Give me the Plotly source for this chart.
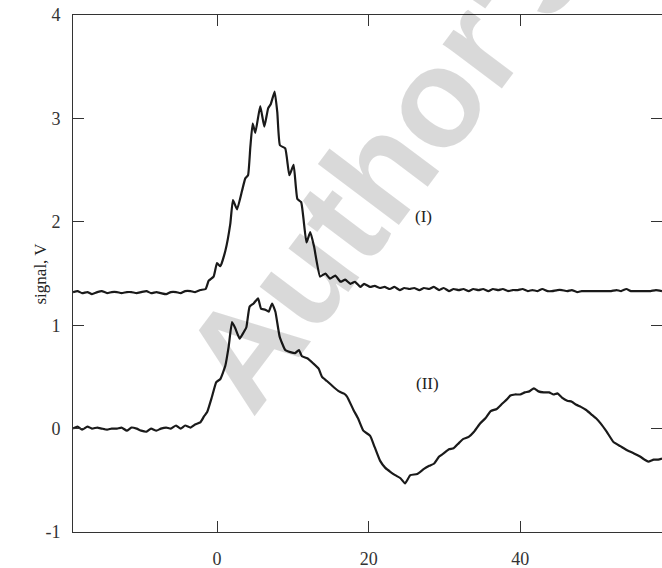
import plotly.graph_objects as go

# Curve (I)
x1 = [-19.0, -18.4, -17.8, -17.1, -16.5, -15.8, -15.2, -14.5, -13.9, -13.2, -12.6, -11.9, -11.3,
      -10.6, -10.0, -9.3, -8.7, -8.0, -7.4, -6.7, -6.1, -5.4, -4.8, -4.2, -3.5, -2.9, -2.2, -1.5,
      -1.1, -0.45, 0.0, 0.44, 1.1, 1.75, 2.1, 2.64, 3.3, 3.73, 4.09, 4.39, 4.7, 5.05, 5.7, 6.24,
      6.75, 7.1, 7.6, 7.95, 8.3, 9.0, 9.54, 10.1, 10.6, 11.1, 11.8, 12.3, 12.8, 13.6, 14.3, 14.9,
      15.6, 16.3, 16.9, 17.6, 18.2, 18.9, 19.4, 20.2, 20.8, 21.5, 22.1, 22.8, 23.4, 24.1, 24.7,
      25.4, 26.0, 26.7, 27.3, 28.0, 28.6, 29.3, 29.9, 30.6, 31.2, 31.9, 32.5, 33.2, 33.8, 34.5,
      35.1, 35.8, 36.4, 37.1, 37.7, 38.4, 39.0, 39.7, 40.3, 41.0, 41.6, 42.3, 42.9, 43.6, 44.2,
      44.9, 45.5, 46.2, 46.8, 47.5, 48.1, 48.8, 49.4, 50.1, 50.7, 51.4, 52.0, 52.7, 53.3, 54.0,
      54.6, 55.3, 55.9, 56.6, 57.2, 57.9, 58.7]
y1 = [1.32, 1.33, 1.31, 1.32, 1.30, 1.32, 1.33, 1.31, 1.32, 1.32, 1.31, 1.32, 1.32,
      1.31, 1.32, 1.33, 1.31, 1.32, 1.31, 1.30, 1.32, 1.32, 1.31, 1.33, 1.33, 1.32, 1.34, 1.35,
      1.43, 1.47, 1.60, 1.57, 1.72, 1.98, 2.21, 2.12, 2.30, 2.42, 2.45, 2.72, 2.95, 2.86, 3.12, 2.92,
      3.10, 3.14, 3.26, 3.06, 2.74, 2.71, 2.45, 2.55, 2.22, 2.19, 1.80, 1.90, 1.76, 1.47, 1.50, 1.45,
      1.48, 1.42, 1.44, 1.40, 1.42, 1.37, 1.40, 1.37, 1.38, 1.36, 1.37, 1.35, 1.37, 1.34, 1.36,
      1.35, 1.36, 1.34, 1.36, 1.35, 1.37, 1.34, 1.36, 1.33, 1.35, 1.34, 1.35, 1.33, 1.35, 1.34,
      1.35, 1.33, 1.35, 1.34, 1.35, 1.33, 1.34, 1.34, 1.35, 1.33, 1.34, 1.33, 1.35, 1.33, 1.33,
      1.34, 1.34, 1.33, 1.34, 1.32, 1.33, 1.33, 1.33, 1.33, 1.33, 1.33, 1.33, 1.34, 1.33, 1.35,
      1.33, 1.33, 1.33, 1.33, 1.33, 1.34, 1.33]

# Curve (II)
x2 = [-19.0, -18.4, -17.8, -17.1, -16.5, -15.8, -15.2, -14.5, -13.9, -13.2, -12.6, -11.9, -11.3,
      -10.6, -10.0, -9.3, -8.7, -8.0, -7.4, -6.7, -6.1, -5.4, -4.8, -4.2, -3.5, -2.9, -2.2, -1.7,
      -1.3, -0.66, -0.1, 0.44, 1.1, 1.53, 1.98, 2.41, 2.98, 3.5, 3.87, 4.3, 4.83, 5.41, 5.8, 6.37,
      6.81, 7.26, 7.7, 8.26, 9.0, 9.67, 10.3, 10.8, 11.2, 11.9, 12.7, 13.4, 13.85, 14.5, 15.4, 16.1,
      16.7, 17.15, 18.0, 18.6, 19.3, 20.2, 20.8, 21.5, 22.2, 22.9, 23.5, 24.2, 24.8, 25.5, 26.4,
      27.3, 28.0, 28.6, 29.3, 29.9, 30.6, 31.2, 31.9, 32.5, 33.2, 33.9, 34.7, 35.4, 36.1, 36.9,
      37.6, 38.2, 38.7, 39.3, 40.0, 40.6, 41.2, 41.8, 42.4, 43.1, 43.8, 44.4, 44.9, 45.5, 46.2,
      46.8, 47.4, 48.0, 48.7, 49.5, 50.0, 50.6, 51.4, 52.3, 53.2, 54.1, 55.0, 55.8, 56.4, 56.9,
      57.6, 58.2, 58.7]
y2 = [0.00, 0.02, -0.01, 0.02, 0.00, 0.01, 0.00, -0.01, 0.00, 0.00, 0.01, -0.02, 0.01,
      0.00, -0.02, -0.03, 0.00, -0.02, 0.00, 0.01, 0.00, 0.03, 0.00, 0.03, 0.01, 0.04, 0.06, 0.12,
      0.16, 0.31, 0.45, 0.48, 0.61, 0.79, 1.03, 0.97, 0.87, 0.93, 0.98, 1.18, 1.21, 1.26, 1.16, 1.15,
      1.13, 1.21, 1.13, 0.89, 0.76, 0.74, 0.73, 0.76, 0.70, 0.68, 0.63, 0.58, 0.50, 0.46, 0.40, 0.36,
      0.34, 0.31, 0.18, 0.10, -0.02, -0.07, -0.18, -0.31, -0.38, -0.42, -0.45, -0.48, -0.53, -0.45, -0.44,
      -0.39, -0.36, -0.34, -0.27, -0.24, -0.20, -0.19, -0.14, -0.10, -0.08, -0.03, 0.05, 0.10, 0.17, 0.19,
      0.24, 0.28, 0.32, 0.33, 0.33, 0.35, 0.36, 0.39, 0.36, 0.35, 0.35, 0.33, 0.34, 0.30, 0.27,
      0.26, 0.23, 0.21, 0.18, 0.13, 0.10, 0.05, -0.03, -0.13, -0.17, -0.21, -0.24, -0.27, -0.30, -0.32,
      -0.30, -0.30, -0.29]

x_ticks = [0, 20, 40]
y_ticks = [-1, 0, 1, 2, 3, 4]
y_tick_text = ["-1", "0", "1", "2", "3", "4"]
x_range = [-19.0, 58.7]
y_range = [-1, 4]
labels = ["(I)", "(II)"]
label_x = [27.2, 27.7]
label_y = [2.05, 0.44]

serif = "Liberation Serif, Times New Roman, serif"
line_style = dict(color="#1a1a1a", width=2.2, shape="spline", smoothing=0.4)

fig = go.Figure()
fig.add_trace(go.Scatter(x=x1, y=y1, mode="lines", line=line_style, showlegend=False))
fig.add_trace(go.Scatter(x=x2, y=y2, mode="lines", line=line_style, showlegend=False))
fig.add_trace(go.Scatter(x=[None], y=[None], yaxis="y2", mode="lines", showlegend=False,
                         hoverinfo="skip"))

axis_common = dict(ticks="inside", ticklen=11, tickwidth=1, tickcolor="#333",
                   showgrid=False, zeroline=False,
                   tickfont=dict(family=serif, size=18, color="#333"))

fig.update_layout(
    width=662, height=568,
    margin=dict(l=73, r=0, t=15, b=36),
    paper_bgcolor="white", plot_bgcolor="white",
    xaxis=dict(range=x_range, tickvals=x_ticks, showline=True, linecolor="#333", linewidth=1,
               mirror="ticks", ticklabelstandoff=10, **axis_common),
    yaxis=dict(range=y_range, tickvals=y_ticks, ticktext=y_tick_text, showline=True,
               linecolor="#333", linewidth=1, mirror=False, ticklabelstandoff=8, **axis_common),
    yaxis2=dict(range=y_range, tickvals=y_ticks, overlaying="y", side="right",
                showline=False, showticklabels=False, **axis_common),
)

for t, lx, ly in zip(labels, label_x, label_y):
    fig.add_annotation(x=lx, y=ly, text=t, showarrow=False,
                       font=dict(family=serif, size=17, color="#222"))

fig.add_annotation(xref="paper", yref="paper", x=(40 - 73) / 589, y=0.5, text="signal, V",
                   textangle=-90, showarrow=False, xanchor="center", yanchor="middle",
                   font=dict(family=serif, size=17, color="#222"))

# faint watermark
fig.add_annotation(xref="paper", yref="paper", x=(385 - 73) / 589, y=(532 - 162) / 517,
                   xanchor="center", yanchor="middle",
                   text="<b>Author's</b>", textangle=-53, showarrow=False,
                   font=dict(family="Liberation Sans, Arial, sans-serif", size=140,
                             color="rgba(0,0,0,0.15)"))

fig.write_html("out.html", config={"displayModeBar": False},
               post_script="document.body.style.margin='0';")
